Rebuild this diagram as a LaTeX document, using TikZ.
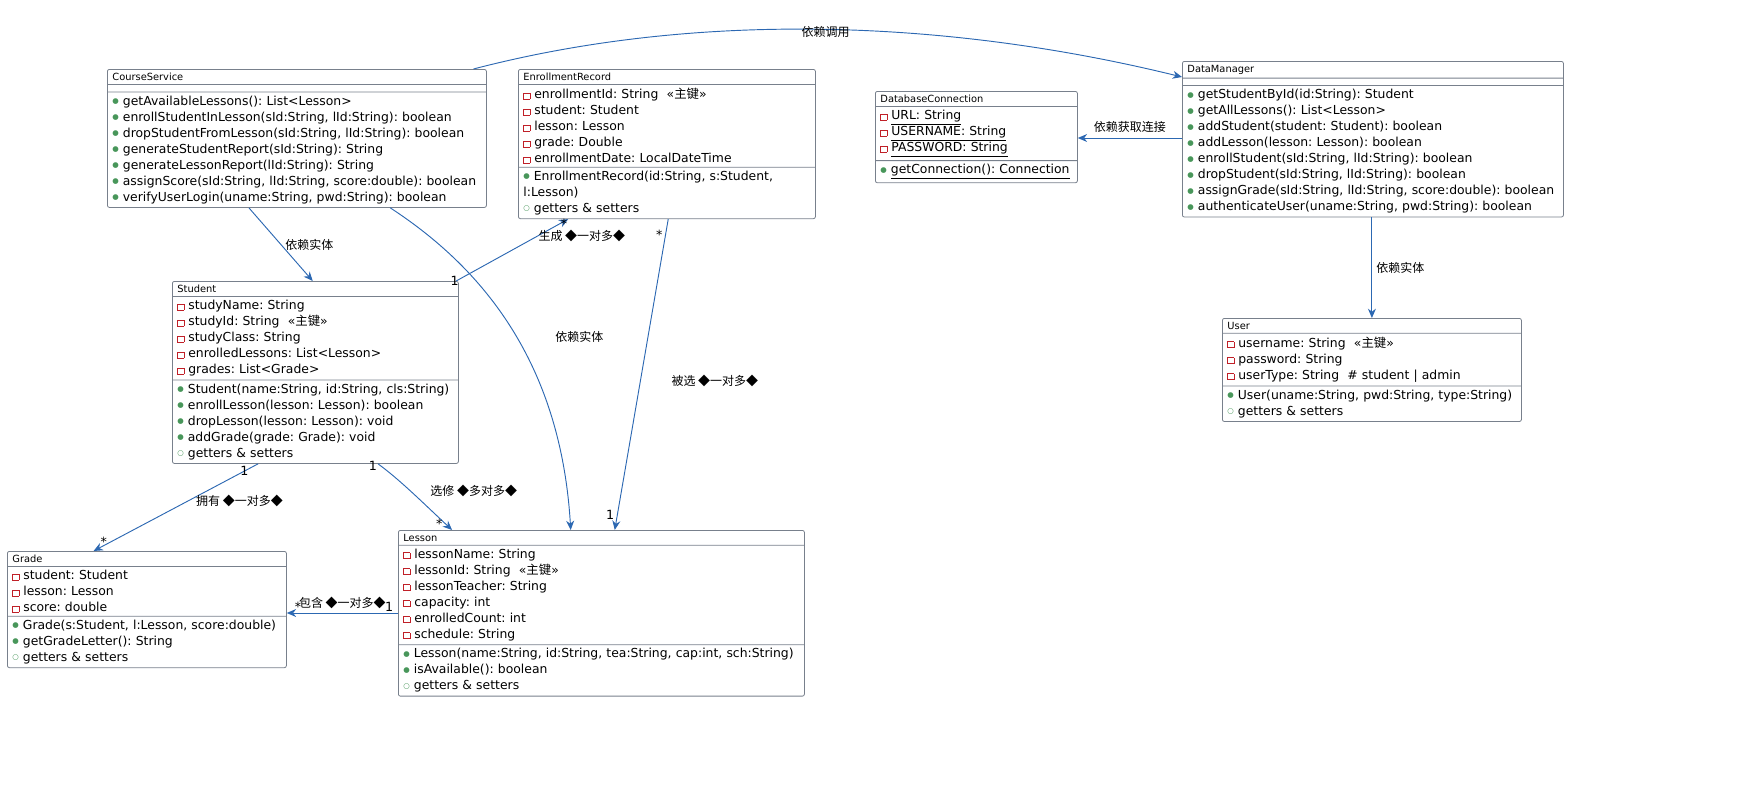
\documentclass[tikz,border=0pt]{standalone}
\usepackage{fontspec}
\setmainfont{DejaVu Sans}
\newfontfamily\cjk{Noto Sans CJK SC}
\usetikzlibrary{shapes.multipart,arrows.meta}
\definecolor{privred}{RGB}{192,32,40}
\definecolor{pubgreen}{RGB}{72,150,90}
\definecolor{edgeblue}{RGB}{44,104,178}
\definecolor{boxgray}{RGB}{120,128,140}
\frenchspacing
\newcommand\ttl{\fontsize{7.4}{10}\selectfont\centering}
\newcommand\mpriv{{\setlength\fboxrule{0.6pt}\setlength\fboxsep{0pt}\textcolor{privred}{\fbox{\rule{0pt}{4pt}\rule{4pt}{0pt}}}}\hspace{3pt}}
\newcommand\mpub{\raisebox{0.25ex}{\textcolor{pubgreen}{\scalebox{0.6}{●}}}\hspace{3pt}}
\newcommand\mpubo{\raisebox{0.25ex}{\textcolor{pubgreen}{\scalebox{0.6}{○}}}\hspace{3pt}}
\newcommand\pk{\ \ «{\cjk 主键}»}
\tikzset{
  cls/.style={draw=boxgray, rectangle split, rectangle split parts=3,
    text width=#1, rounded corners=1.5pt, anchor=north west,
    inner xsep=3.75pt, inner ysep=2.5pt,
    font=\fontsize{9.3}{12}\selectfont, line width=0.6pt},
  dep/.style={draw=edgeblue, line width=0.7pt, -{Stealth[length=7pt,width=6pt]}},
  lbl/.style={font=\cjk\fontsize{9}{10}\selectfont, inner sep=1pt},
  mult/.style={font=\fontsize{9.5}{10}\selectfont, inner sep=1pt}
}
\begin{document}
\begin{tikzpicture}[x=0.75pt,y=-0.75pt]
  \useasboundingbox (0,0) rectangle (1755,785);
  % classes
  \node[cls=276.75pt] (cs) at (107,69) {\ttl CourseService
    \nodepart{second}\vspace{-9pt}
    \nodepart{third}\mpub getAvailableLessons(): List<Lesson>\\
    \mpub enrollStudentInLesson(sId:String, lId:String): boolean\\
    \mpub dropStudentFromLesson(sId:String, lId:String): boolean\\
    \mpub generateStudentReport(sId:String): String\\
    \mpub generateLessonReport(lId:String): String\\
    \mpub assignScore(sId:String, lId:String, score:double): boolean\\
    \mpub verifyUserLogin(uname:String, pwd:String): boolean};
  \node[cls=215.25pt] (er) at (518,69) {\ttl EnrollmentRecord
    \nodepart{second}\mpriv enrollmentId: String\pk\\
    \mpriv student: Student\\
    \mpriv lesson: Lesson\\
    \mpriv grade: Double\\
    \mpriv enrollmentDate: LocalDateTime
    \nodepart{third}\mpub EnrollmentRecord(id:String, s:Student, l:Lesson)\\
    \mpubo getters \& setters};
  \node[cls=144pt] (db) at (875,91) {\ttl DatabaseConnection
    \nodepart{second}\mpriv \underline{URL: String}\\
    \mpriv \underline{USERNAME: String}\\
    \mpriv \underline{PASSWORD: String}
    \nodepart{third}\mpub \underline{getConnection(): Connection}};
  \node[cls=278.25pt] (dm) at (1182,61) {\ttl DataManager
    \nodepart{second}\vspace{-9pt}
    \nodepart{third}\mpub getStudentById(id:String): Student\\
    \mpub getAllLessons(): List<Lesson>\\
    \mpub addStudent(student: Student): boolean\\
    \mpub addLesson(lesson: Lesson): boolean\\
    \mpub enrollStudent(sId:String, lId:String): boolean\\
    \mpub dropStudent(sId:String, lId:String): boolean\\
    \mpub assignGrade(sId:String, lId:String, score:double): boolean\\
    \mpub authenticateUser(uname:String, pwd:String): boolean};
  \node[cls=207pt] (st) at (172,281) {\ttl Student
    \nodepart{second}\mpriv studyName: String\\
    \mpriv studyId: String\pk\\
    \mpriv studyClass: String\\
    \mpriv enrolledLessons: List<Lesson>\\
    \mpriv grades: List<Grade>
    \nodepart{third}\mpub Student(name:String, id:String, cls:String)\\
    \mpub enrollLesson(lesson: Lesson): boolean\\
    \mpub dropLesson(lesson: Lesson): void\\
    \mpub addGrade(grade: Grade): void\\
    \mpubo getters \& setters};
  \node[cls=216.75pt] (us) at (1222,318) {\ttl User
    \nodepart{second}\mpriv username: String\pk\\
    \mpriv password: String\\
    \mpriv userType: String\ \ \# student | admin
    \nodepart{third}\mpub User(uname:String, pwd:String, type:String)\\
    \mpubo getters \& setters};
  \node[cls=201.75pt] (gr) at (7,551) {\ttl Grade
    \nodepart{second}\mpriv student: Student\\
    \mpriv lesson: Lesson\\
    \mpriv score: double
    \nodepart{third}\mpub Grade(s:Student, l:Lesson, score:double)\\
    \mpub getGradeLetter(): String\\
    \mpubo getters \& setters};
  \node[cls=297pt] (le) at (398,530) {\ttl Lesson
    \nodepart{second}\mpriv lessonName: String\\
    \mpriv lessonId: String\pk\\
    \mpriv lessonTeacher: String\\
    \mpriv capacity: int\\
    \mpriv enrolledCount: int\\
    \mpriv schedule: String
    \nodepart{third}\mpub Lesson(name:String, id:String, tea:String, cap:int, sch:String)\\
    \mpub isAvailable(): boolean\\
    \mpubo getters \& setters};
  % dependencies
  \draw[dep] ([xshift=-10pt]cs.north east) .. controls (700,10) and (950,20) .. ([yshift=-12pt]dm.north west)
    node[lbl, pos=0.5, yshift=-2pt] {依赖调用};
  \draw[dep] (dm.west |- 0,138) -- (db.east |- 0,138) node[lbl, midway, above=3pt] {依赖获取连接};
  \draw[dep] (dm.south -| us.north) -- (us.north) node[lbl, midway, right=2pt] {依赖实体};
  \draw[dep] ([xshift=-36pt]cs.south) -- ([xshift=-2pt]st.north) node[lbl, midway, right=2pt] {依赖实体};
  \draw[dep] ([xshift=70pt]cs.south) .. controls (470,260) and (560,350) .. ([xshift=-23pt]le.north)
    node[lbl, pos=0.55, right=28pt] {依赖实体};
  % associations
  \draw[dep] ([xshift=-2pt]st.north east) -- ([xshift=-74pt]er.south)
    node[mult, pos=0.05, left=1pt, yshift=-2pt] {1} node[mult, pos=0.93, right=-1pt] {*}
    node[lbl, pos=0.6, right=10pt, yshift=6pt] {生成 ◆一对多◆};
  \draw[dep] ([xshift=1pt]er.south) -- ([xshift=10pt]le.north)
    node[mult, pos=0.05, left=1pt] {*} node[mult, pos=0.95, left=1pt] {1}
    node[lbl, pos=0.52, right=22pt] {被选 ◆一对多◆};
  \draw[dep] ([xshift=-43pt]st.south) -- ([xshift=-40pt]gr.north)
    node[mult, pos=0.08, left=-4pt] {1} node[mult, pos=0.9, left=1pt] {*}
    node[lbl, pos=0.42, right=4pt] {拥有 ◆一对多◆};
  \draw[dep] ([xshift=47pt]st.south) .. controls (400,480) and (420,500) .. ([xshift=-112pt]le.north)
    node[mult, pos=0.05, left=2pt] {1} node[mult, pos=0.93, left=1pt] {*}
    node[lbl, pos=0.48, right=14pt] {选修 ◆多对多◆};
  \draw[dep] (le.west |- 0,613) -- (gr.east |- 0,613)
    node[mult, pos=0.08, above=0pt] {1} node[mult, pos=0.9, above=0pt] {*}
    node[lbl, midway, above=2pt] {包含 ◆一对多◆};
\end{tikzpicture}
\end{document}
